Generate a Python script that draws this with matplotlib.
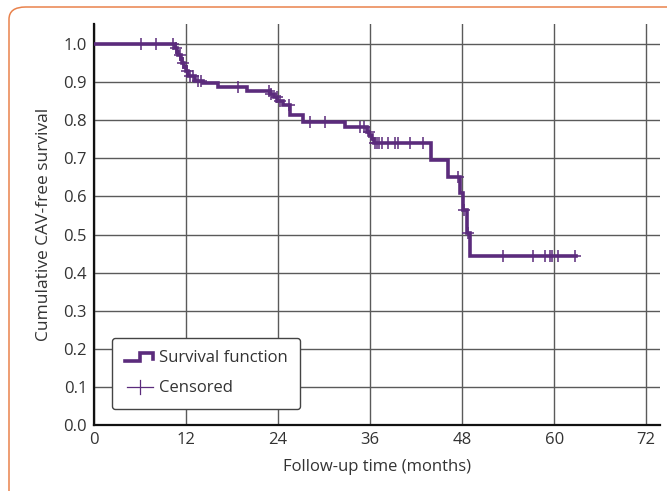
import numpy as np
import matplotlib
matplotlib.use("Agg")
import matplotlib.pyplot as plt
from matplotlib.lines import Line2D
from matplotlib.legend_handler import HandlerBase
from matplotlib.patches import FancyBboxPatch

plt.rcParams["font.family"] = ["Open Sans", "DejaVu Sans"]

# Kaplan-Meier step data (event times in months, survival after each step)
event_times = [0, 10.5, 10.8, 11.0, 11.3, 11.5, 11.8, 12.0, 12.3, 13.2, 14.2, 16.2, 19.9,
               23.0, 23.5, 23.9, 24.6, 25.6, 27.3, 32.7, 35.6, 35.9, 36.2, 36.5,
               44.0, 46.2, 47.7, 48.1, 48.6, 49.0]
survival = [1.0, 0.99, 0.98, 0.97, 0.96, 0.95, 0.94, 0.93, 0.915, 0.903, 0.897, 0.886, 0.877,
            0.870, 0.860, 0.850, 0.840, 0.814, 0.796, 0.783, 0.770, 0.760, 0.750, 0.740,
            0.696, 0.652, 0.608, 0.564, 0.504, 0.443]
end_time = 62.9

# censored observations
censored_times = [6.1, 8.1, 10.3, 10.7, 11.2, 11.6, 12.1, 12.5, 12.9, 13.5, 14.0, 18.8,
                  22.8, 23.1, 23.8, 24.2, 25.4, 28.2, 30.1, 34.7, 35.2, 35.8, 36.7,
                  36.9, 37.2, 37.5, 38.3, 39.2, 39.6, 41.2, 42.9, 47.5, 48.3, 48.8,
                  53.3, 57.3, 58.8, 59.4, 59.7, 60.5, 62.7]

x_ticks = [0, 12, 24, 36, 48, 60, 72]
y_ticks = [0.0, 0.1, 0.2, 0.3, 0.4, 0.5, 0.6, 0.7, 0.8, 0.9, 1.0]

purple = "#5b2b7c"

fig = plt.figure(figsize=(6.67, 4.91), dpi=100)
ax = fig.add_axes([0.1409, 0.1344, 0.8486, 0.8166])

# orange frame around the panel
frame = FancyBboxPatch((9 / 667, -0.05), 1.1, (491 - 7) / 491 + 0.05,
                       boxstyle="round,pad=0,rounding_size=0.025",
                       transform=fig.transFigure, facecolor="none",
                       edgecolor="#e9824c", linewidth=1.1, clip_on=False)
fig.patches.append(frame)

xs = list(event_times) + [end_time]
ys = list(survival) + [survival[-1]]
ax.step(xs, ys, where="post", color=purple, linewidth=2.6, solid_joinstyle="miter", zorder=3)

idx = np.searchsorted(event_times, censored_times, side="right") - 1
cens_y = np.array(survival)[idx]
ax.plot(censored_times, cens_y, linestyle="none", marker="+", markersize=8,
        markeredgewidth=1.1, color=purple, zorder=4)

ax.set_xlim(0, 73.8)
ax.set_ylim(0, 1.0525)
ax.set_xticks(x_ticks)
ax.set_yticks(y_ticks)
ax.set_yticklabels([f"{v:.1f}" for v in y_ticks])
ax.grid(True, color="#5a5a5a", linewidth=1.0)
ax.set_axisbelow(True)
ax.tick_params(length=0, pad=5, labelsize=12, labelcolor="#333333")

for side in ["top", "right"]:
    ax.spines[side].set_visible(False)
for side in ["left", "bottom"]:
    ax.spines[side].set_linewidth(1.6)
    ax.spines[side].set_color("#111111")

ax.set_xlabel("Follow-up time (months)", fontsize=12, color="#333333", labelpad=8)
ax.set_ylabel("Cumulative CAV-free survival", fontsize=12.5, color="#333333", labelpad=8)


class StepHandler(HandlerBase):
    def create_artists(self, legend, orig_handle, xdescent, ydescent,
                       width, height, fontsize, trans):
        x0 = -xdescent
        y0 = -ydescent
        px = [x0, x0 + 0.55 * width, x0 + 0.55 * width, x0 + width, x0 + width]
        py = [y0 + 0.1 * height, y0 + 0.1 * height, y0 + 0.8 * height,
              y0 + 0.8 * height, y0 + 0.3 * height]
        line = Line2D(px, py, color=purple, linewidth=2.6, solid_joinstyle="miter",
                      transform=trans)
        return [line]


class PlusHandler(HandlerBase):
    def create_artists(self, legend, orig_handle, xdescent, ydescent,
                       width, height, fontsize, trans):
        x0 = -xdescent
        y0 = -ydescent
        xc = x0 + 0.55 * width
        horiz = Line2D([x0 + 0.1 * width, x0 + width], [y0 + 0.45 * height] * 2,
                       color=purple, linewidth=0.9, transform=trans)
        vert = Line2D([xc, xc], [y0 - 0.15 * height, y0 + 1.05 * height],
                      color=purple, linewidth=0.9, transform=trans)
        return [horiz, vert]


surv_handle = Line2D([], [], color=purple, linewidth=2.6)
cens_handle = Line2D([], [], color=purple, linestyle="none", marker="+")
leg = ax.legend([surv_handle, cens_handle], ["Survival function", "Censored"],
                handler_map={surv_handle: StepHandler(), cens_handle: PlusHandler()},
                loc="lower left", bbox_to_anchor=(0.032, 0.04),
                fontsize=12, frameon=True, fancybox=True, framealpha=1,
                edgecolor="#444444", handlelength=1.7, handletextpad=0.35,
                borderpad=0.75, labelspacing=0.85, borderaxespad=0)
leg.get_frame().set_linewidth(1.0)
for t in leg.get_texts():
    t.set_color("#333333")

fig.savefig("out.png", dpi=100)
